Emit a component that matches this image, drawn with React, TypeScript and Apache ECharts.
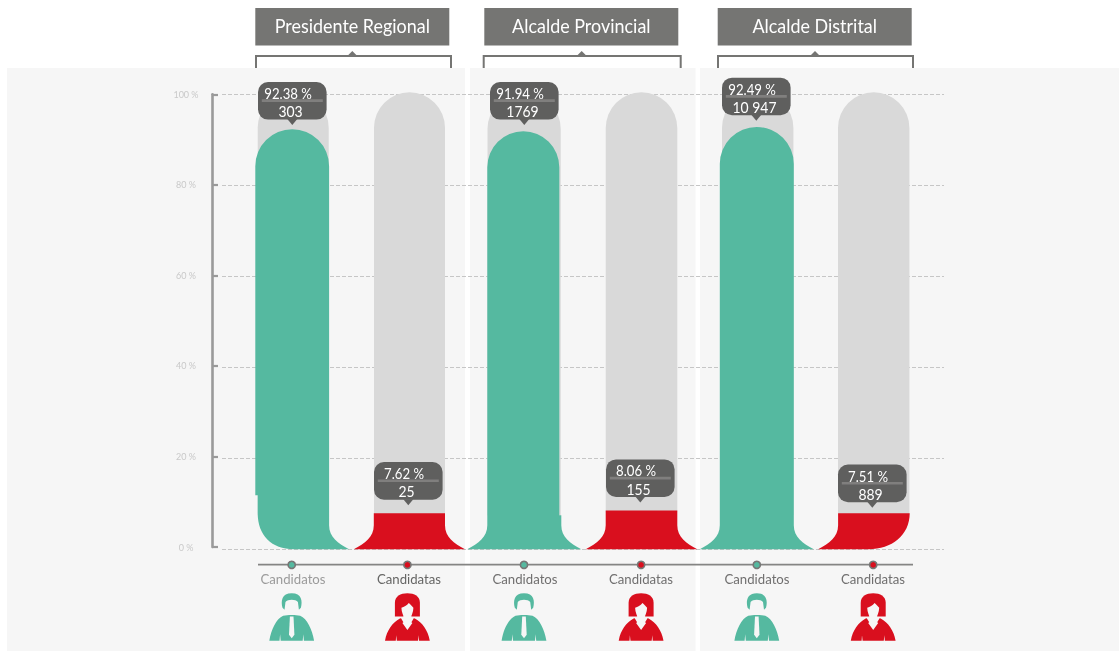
import React, { useEffect, useRef } from "react";
import * as echarts from "echarts";

const categories = ["Candidatos", "Candidatas", "Candidatos", "Candidatas", "Candidatos", "Candidatas"];
const percentages = [92.38, 7.62, 91.94, 8.06, 92.49, 7.51];
const counts = ["303", "25", "1769", "155", "10 947", "889"];
const headers = ["Presidente Regional", "Alcalde Provincial", "Alcalde Distrital"];

const FONT = "Lato, 'Open Sans', sans-serif";
const GREEN = "#55b9a0";
const RED = "#d90f1e";
const GRAY = "#d9d9d9";
const BOX = "#5f5f5e";
const HEAD = "#757573";
const BG = "#f6f6f6";
const isMan = (i: number) => i % 2 === 0;

// fine adjustments to the drawing, in pixels, relative to each category's centre
const grayShift = [0.2, 0.5, -0.9, 0.5, 0.7, 0.7];
const grayHalf = [35.5, 35.5, 36.6, 35.8, 35.7, 35.7];
const fillShift = [-0.8, 0.4, -1.7, 0.5, -0.2, 0.9];
const fillHalf = [36.9, 35.6, 36, 35.8, 37, 35.8];
const topShift = [0.3, -1.5, 0.3, -2.2, -1.5, -2];
const leftEnd = ["round", "flare", "flare", "flare", "flare", "flare"];
const rightEnd = ["flare", "flare", "flare", "flare", "flare", "round"];
const boxGap = [9.4, 15, 11.4, 15.6, 13.2, 13];
const markShift = [-1.3, -1.6, -1, 0.1, -0.2, 0.2];
const jogLeft = [{ y: 54, dx: 2.4 }, null, null, null, null, null];
const jogRight = [null, null, { y: 34, dx: 2 }, null, null, null];

const manHead =
  "M-9.2 14.5C-11 8-10 0 0 0C10 0 11 8 9.2 14.5L7.2 16.5L6.2 8.6C4 5.8-4 5.8-6.2 8.6L-7.2 16.5Z";
const manBody =
  "M-22.4 47.4C-20.5 36-15.5 25.5-8.5 22.4L-2.6 21.6L2.6 21.6L8.5 22.4C15.5 25.5 20.5 36 22.4 47.4L12.2 47.4L11.6 41L11 47.4L-11 47.4L-11.6 41L-12.2 47.4Z";
const manTie = "M-1.8 23.2L1.8 23.2L2.7 41.5L0 45L-2.7 41.5Z";
const womanHair =
  "M-12.5 23.3L-12.5 9.5C-12.5 3-7 0 0 0C7 0 12.5 3 12.5 9.5L12.5 23.3Z";
const womanFace =
  "M-6 14.5C-6 19-3.6 23-3.2 25.5L3.2 25.5C3.6 23 6 19 6 14.5C4.6 12.5 2.8 11 1.4 9.6C-0.6 12.2-3.4 13.6-6 14.5Z";
const womanBody =
  "M-22.4 47.4C-20.5 37-15 29.5-7.5 25.3L-3 24.2L3 24.2L7.5 25.3C15 29.5 20.5 37 22.4 47.4L11.6 47.4L11.2 42L10.6 47.4L-10.6 47.4L-11.2 42L-11.6 47.4Z";
const womanNeck = "M-6.4 25L-4 29L-5 29.8L0 36.6L5 29.8L4 29L6.4 25L3 22.8L-3 22.8Z";

const toF = (n: number) => n.toFixed(2);

function renderColumn(params: any, api: any) {
  const i = api.value(0);
  const pct = api.value(1);
  const c = api.coord([i, 0])[0];
  const y0 = api.coord([i, 0])[1];
  const y100 = api.coord([i, 100])[1];
  const yTop = api.coord([i, pct])[1] + topShift[i];
  const man = isMan(i);
  const color = man ? GREEN : RED;

  // grey capsule, visible only above the coloured fill
  const gc = c + grayShift[i];
  const gh = grayHalf[i];
  const gt = y100 - 2;
  const gb = man ? y0 - 34 : yTop + 2;
  const grayPath = `M${gc - gh} ${gb}L${gc - gh} ${gt + gh}A${gh} ${gh} 0 0 1 ${gc + gh} ${gt + gh}L${gc + gh} ${gb}Z`;

  // coloured fill
  const fc = c + fillShift[i];
  const fh = fillHalf[i];
  const L = fc - fh;
  const R = fc + fh;
  let d = "";
  if (man) d += `M${L} ${yTop + fh}A${fh} ${fh} 0 0 1 ${R} ${yTop + fh}`;
  else d += `M${L} ${yTop}L${R} ${yTop}`;
  let rx = R;
  const jr = jogRight[i];
  if (jr) {
    d += `L${rx} ${y0 - jr.y}L${rx + jr.dx} ${y0 - jr.y}`;
    rx += jr.dx;
  }
  if (rightEnd[i] === "flare") {
    d += `L${rx} ${y0 - 24}C${rx} ${y0 - 12} ${rx + 9} ${y0 - 6} ${rx + 20} ${y0}`;
  } else {
    d += `L${rx} ${y0 - 36}C${rx} ${y0 - 14} ${rx - 18} ${y0} ${rx - 41} ${y0}`;
  }
  let lx = L;
  const jl = jogLeft[i];
  if (jl) lx += jl.dx;
  if (leftEnd[i] === "flare") {
    d += `L${lx - 20} ${y0}C${lx - 9} ${y0 - 6} ${lx} ${y0 - 12} ${lx} ${y0 - 24}`;
  } else {
    d += `L${lx + 36} ${y0}C${lx + 14} ${y0} ${lx} ${y0 - 14} ${lx} ${y0 - 36}`;
  }
  if (jl) d += `L${lx} ${y0 - jl.y}L${L} ${y0 - jl.y}`;
  d += "Z";

  // callout
  const boxW = 68.6;
  const boxH = 37.6;
  const bc = c - 0.7;
  const bottom = api.coord([i, pct])[1] - boxGap[i];
  const bTop = bottom - boxH;

  // axis marks
  const mx = c + markShift[i];
  const dotY = y0 + 15.6;
  const iconTop = 593.3;

  const iconChildren = man
    ? [
        { type: "path", shape: { pathData: manHead }, style: { fill: color } },
        { type: "path", shape: { pathData: manBody }, style: { fill: color } },
        { type: "path", shape: { pathData: manTie }, style: { fill: BG } },
      ]
    : [
        { type: "path", shape: { pathData: womanHair }, style: { fill: color } },
        { type: "path", shape: { pathData: womanBody }, style: { fill: color } },
        { type: "path", shape: { pathData: womanFace }, style: { fill: BG } },
        { type: "path", shape: { pathData: womanNeck }, style: { fill: BG } },
      ];

  return {
    type: "group",
    children: [
      { type: "path", shape: { pathData: grayPath }, style: { fill: GRAY } },
      { type: "path", shape: { pathData: d }, style: { fill: color } },
      {
        type: "rect",
        shape: { x: bc - boxW / 2, y: bTop, width: boxW, height: boxH, r: 10 },
        style: { fill: BOX },
      },
      {
        type: "polygon",
        shape: { points: [[bc - 5, bottom - 0.5], [bc + 5, bottom - 0.5], [bc, bottom + 5.5]] },
        style: { fill: BOX },
      },
      {
        type: "rect",
        shape: { x: bc - 30.5, y: bTop + 17.4, width: 61, height: 2.6 },
        style: { fill: "#807f7e" },
      },
      {
        type: "text",
        x: bc - 4.2,
        y: bTop + 11.2,
        scaleX: 0.88,
        style: {
          text: `${toF(pct)} %`,
          fill: "#ffffff",
          font: `15px ${FONT}`,
          align: "center",
          verticalAlign: "middle",
        },
      },
      {
        type: "text",
        x: bc - 1.8,
        y: bTop + 28.8,
        scaleX: 0.9,
        style: {
          text: counts[i],
          fill: "#ffffff",
          font: `15.5px ${FONT}`,
          align: "center",
          verticalAlign: "middle",
        },
      },
      {
        type: "circle",
        shape: { cx: mx, cy: dotY, r: 3.6 },
        style: { fill: color, stroke: "#777776", lineWidth: 1.6 },
      },
      { type: "group", x: mx, y: iconTop, children: iconChildren },
    ],
  };
}

const headerBoxes = [
  { x: 255.3, w: 194 },
  { x: 484.3, w: 194 },
  { x: 717.7, w: 194 },
];
const brackets = [
  { l: 256, r: 451, m: 352.3 },
  { l: 483.7, r: 680.7, m: 581.7 },
  { l: 718, r: 913, m: 815 },
];

function buildGraphic() {
  const els: any[] = [];
  const panels = [
    [7, 458],
    [470, 225.5],
    [700, 419],
  ];
  panels.forEach(([x, w]) =>
    els.push({ type: "rect", z: -10, shape: { x, y: 68, width: w, height: 583 }, style: { fill: BG } })
  );
  headers.forEach((h, i) => {
    const b = headerBoxes[i];
    els.push({ type: "rect", z: 1, shape: { x: b.x, y: 8, width: b.w, height: 37.5 }, style: { fill: HEAD } });
    els.push({
      type: "text",
      z: 2,
      x: b.x + b.w / 2,
      y: 26,
      scaleX: 0.97,
      style: {
        text: h,
        fill: "#ffffff",
        font: `18.5px ${FONT}`,
        align: "center",
        verticalAlign: "middle",
      },
    });
    const k = brackets[i];
    els.push({
      type: "polyline",
      z: -12,
      shape: { points: [[k.l, 69], [k.l, 56], [k.r, 56], [k.r, 69]] },
      style: { stroke: HEAD, lineWidth: 2, fill: "none" },
    });
    els.push({
      type: "polygon",
      z: -12,
      shape: { points: [[k.m - 5, 56], [k.m + 5, 56], [k.m, 51]] },
      style: { fill: HEAD },
    });
  });
  els.push({
    type: "line",
    z: 1,
    shape: { x1: 258, y1: 564.6, x2: 913, y2: 564.6 },
    style: { stroke: "#858584", lineWidth: 1.6 },
  });
  return els;
}

export default function App() {
  const ref = useRef<HTMLDivElement>(null);
  useEffect(() => {
    document.body.style.margin = "0";
    document.body.style.background = "#ffffff";
    const chart = echarts.init(ref.current!, null, { renderer: "svg" });
    const labelColors = ["#9b9b9b", "#666665", "#706f6f", "#706f6f", "#706f6f", "#706f6f"];
    chart.setOption({
      animation: false,
      backgroundColor: "transparent",
      graphic: { elements: buildGraphic() },
      grid: [
        { left: 212, top: 94.3, width: 6, height: 452.7, containLabel: false },
        { left: 222, top: 94.3, width: 722, height: 455 },
        { left: 235, top: 94.3, width: 696, height: 455 },
      ],
      xAxis: [
        { gridIndex: 0, type: "value", show: false, min: 0, max: 1 },
        { gridIndex: 1, type: "value", show: false, min: 0, max: 1 },
        {
          gridIndex: 2,
          type: "category",
          data: categories.map((c, i) => ({ value: c, textStyle: { color: labelColors[i] } })),
          axisLine: { show: false },
          axisTick: { show: false },
          axisLabel: {
            interval: 0,
            margin: 23,
            fontSize: 13.2,
            fontFamily: FONT,
            color: "#706f6f",
            align: "center",
          },
        },
      ],
      yAxis: [
        {
          gridIndex: 0,
          type: "value",
          min: 0,
          max: 100,
          interval: 20,
          axisLine: { show: true, lineStyle: { color: "#9a9a9a", width: 2.6 } },
          axisTick: { show: true, inside: true, length: 6, lineStyle: { color: "#9a9a9a", width: 2.2 } },
          axisLabel: {
            margin: 26,
            align: "center",
            fontSize: 9,
            fontFamily: FONT,
            color: "#c9c9c9",
            formatter: "{value} %",
          },
          splitLine: { show: false },
        },
        {
          gridIndex: 1,
          type: "value",
          min: 0,
          max: 100,
          interval: 20,
          axisLine: { show: false },
          axisTick: { show: false },
          axisLabel: { show: false },
          splitLine: { show: true, lineStyle: { color: "#c6c6c6", type: [4, 2], width: 1 } },
        },
        {
          gridIndex: 2,
          type: "value",
          min: 0,
          max: 100,
          show: false,
          splitLine: { show: false },
        },
      ],
      series: [
        {
          type: "custom",
          xAxisIndex: 2,
          yAxisIndex: 2,
          clip: false,
          z: 3,
          encode: { x: 0, y: 1 },
          data: percentages.map((p, i) => [i, p]),
          renderItem: renderColumn,
        },
      ],
    });
    return () => chart.dispose();
  }, []);
  return (
    <div
      ref={ref}
      style={{ position: "fixed", left: 0, top: 0, width: 1119, height: 651, fontFamily: FONT }}
    />
  );
}
